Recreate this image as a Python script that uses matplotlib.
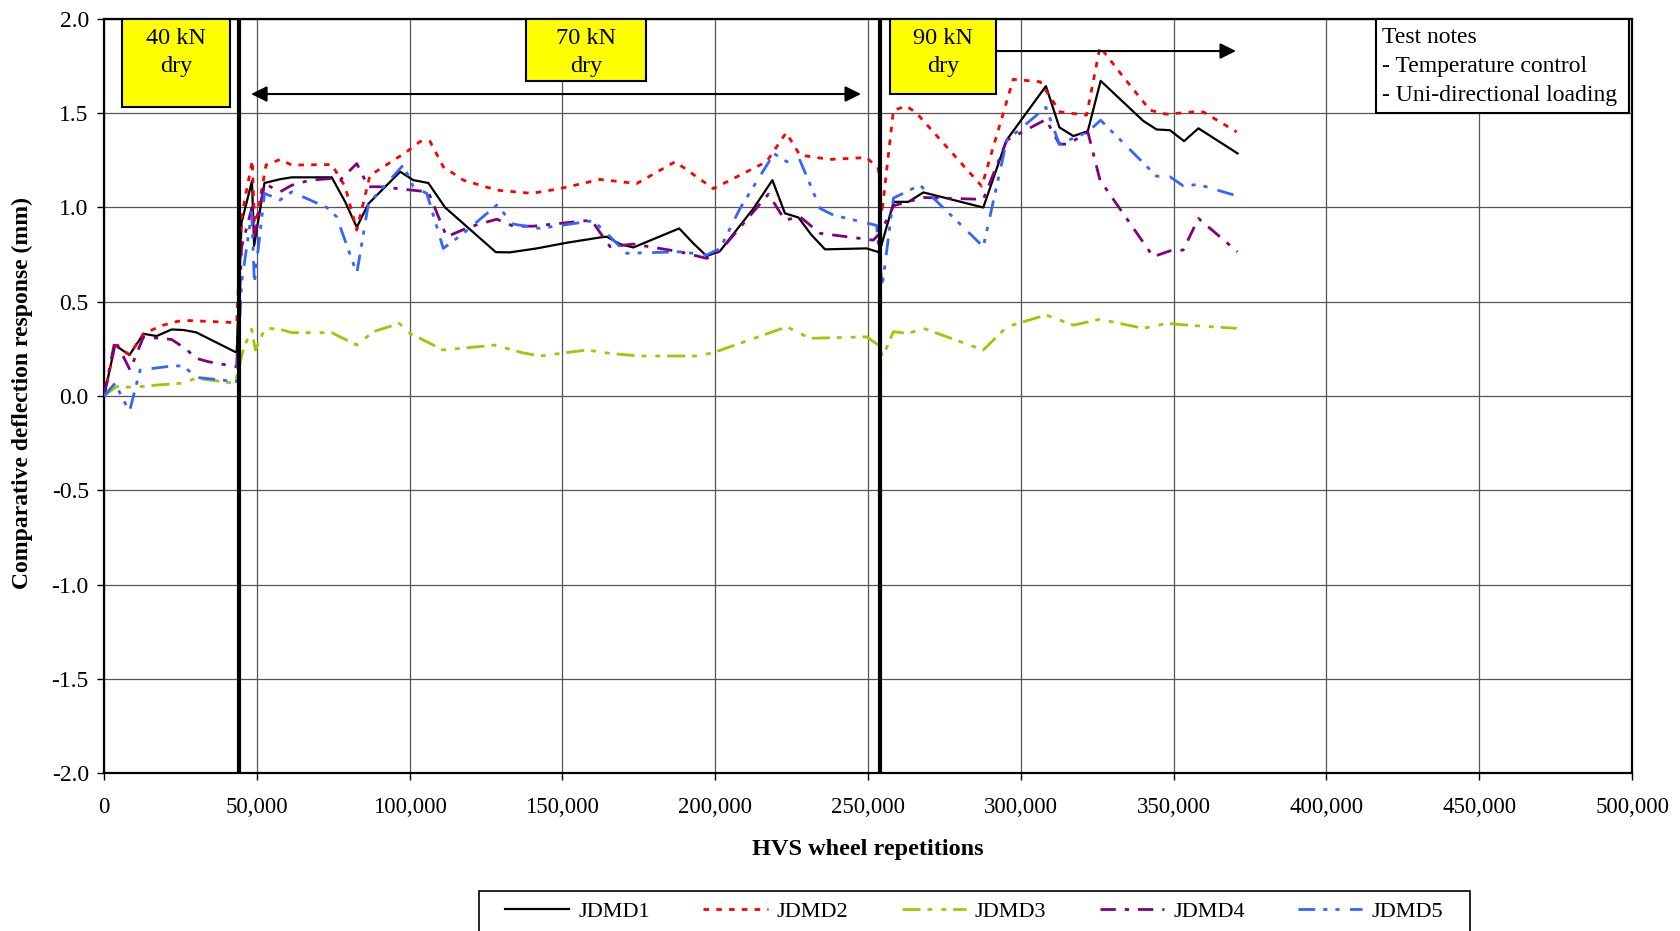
import matplotlib
matplotlib.use('Agg')
import matplotlib.pyplot as plt
from matplotlib.patches import Rectangle
from matplotlib.ticker import FuncFormatter, MultipleLocator

plt.rcParams['font.family'] = ['Liberation Serif', 'DejaVu Serif']
plt.rcParams['axes.unicode_minus'] = False
plt.rcParams['lines.scale_dashes'] = False

# HVS wheel repetitions / deflection (mm)
x1 = [0, 3600, 8300, 12900, 17200, 22100, 26000, 30100, 43400,
      45000, 48400, 49100, 52500, 57600, 61400, 74500, 78900, 82700, 86500,
      96900, 101200, 106100, 111600, 128200, 132800, 141600, 151400, 162300, 164500,
      168800, 173200, 188200, 192800, 197200, 201600, 212500, 218700, 222800, 227200,
      231500, 235900, 249500, 253700, 258400, 263200, 268100, 287700, 295300, 308200,
      312600, 317200, 321900, 326100, 340000, 344400, 348800, 353400, 358100, 370900]
y1 = [0, 0.27, 0.217, 0.33, 0.318, 0.353, 0.35, 0.338, 0.23,
      0.92, 1.14, 0.797, 1.13, 1.15, 1.16, 1.16, 1.03, 0.895, 1.02,
      1.19, 1.145, 1.13, 1.0, 0.763, 0.762, 0.783, 0.813, 0.841, 0.845,
      0.806, 0.788, 0.889, 0.81, 0.742, 0.77, 0.995, 1.145, 0.969, 0.947,
      0.854, 0.778, 0.783, 0.762, 1.03, 1.03, 1.08, 1.0, 1.357, 1.644,
      1.425, 1.379, 1.405, 1.672, 1.46, 1.414, 1.41, 1.352, 1.42, 1.287]

x2 = [0, 3600, 8300, 12900, 15600, 19400, 24300, 28100, 43400,
      45000, 48500, 49300, 53000, 57600, 61400, 74500, 78900, 82700, 87000,
      99000, 103400, 106700, 111000, 117600, 128500, 139900, 149200, 162300, 174300,
      186900, 199400, 216800, 223200, 227700, 237500, 249500, 253400, 254500, 258300,
      262600, 265900, 287200, 297500, 306300, 312800, 321500, 325900, 333500, 342300,
      347700, 356400, 359700, 370600]
y2 = [0, 0.27, 0.22, 0.33, 0.35, 0.376, 0.397, 0.40, 0.389,
      0.95, 1.25, 0.88, 1.225, 1.255, 1.225, 1.228, 1.11, 0.88, 1.17,
      1.295, 1.35, 1.35, 1.216, 1.145, 1.092, 1.075, 1.1, 1.149, 1.127,
      1.243, 1.1, 1.243, 1.397, 1.278, 1.255, 1.265, 1.207, 0.97, 1.516,
      1.538, 1.5, 1.113, 1.68, 1.667, 1.507, 1.49, 1.852, 1.693, 1.516,
      1.495, 1.507, 1.507, 1.401]

x3 = [0, 4100, 9600, 17200, 24900, 30300, 42900,
      45600, 48300, 49500, 52700, 57600, 61400, 74500, 82700, 88100, 96600,
      100100, 111000, 127900, 136700, 142700, 157900, 165600, 175400, 193900, 199400,
      223400, 231000, 249500, 253400, 254800, 258300, 263200, 268100, 287700, 295400,
      308200, 317200, 325900, 340000, 347700, 358600, 370600]
y3 = [0, 0.05, 0.046, 0.058, 0.067, 0.094, 0.067,
      0.25, 0.354, 0.244, 0.36, 0.354, 0.336, 0.336, 0.27, 0.341, 0.385,
      0.332, 0.244, 0.27, 0.23, 0.212, 0.244, 0.226, 0.212, 0.212, 0.23,
      0.367, 0.306, 0.314, 0.27, 0.208, 0.341, 0.332, 0.359, 0.244, 0.367,
      0.43, 0.376, 0.407, 0.359, 0.385, 0.371, 0.359]

x4 = [0, 3600, 8500, 12900, 22100, 27000, 30100, 34100, 43400,
      45000, 48400, 49300, 52500, 57600, 61400, 67400, 74500, 77200, 82700,
      86500, 90300, 99000, 106100, 112100, 119800, 128500, 133900, 140500, 159500,
      163400, 165600, 173200, 188500, 197200, 201600, 217400, 222800, 227700, 234300,
      251700, 253900, 258400, 268100, 287700, 295400, 308200, 312600, 315500, 321900,
      325900, 343300, 348800, 353100, 358100, 370900]
y4 = [0, 0.297, 0.138, 0.314, 0.3, 0.247, 0.2, 0.182, 0.155,
      0.79, 1.0, 0.85, 1.127, 1.083, 1.118, 1.145, 1.154, 1.145, 1.233,
      1.11, 1.11, 1.095, 1.083, 0.845, 0.898, 0.938, 0.901, 0.901, 0.933,
      0.841, 0.792, 0.806, 0.765, 0.73, 0.77, 1.071, 0.933, 0.951, 0.863,
      0.827, 0.863, 1.01, 1.053, 1.043, 1.357, 1.467, 1.336, 1.336, 1.401,
      1.145, 0.739, 0.77, 0.774, 0.942, 0.765]

x5 = [0, 3600, 8300, 11800, 22100, 26000, 30100, 43400,
      45000, 48300, 49200, 52500, 57600, 61400, 72900, 76100, 82700, 86500,
      97900, 101200, 105600, 111000, 117600, 128500, 133900, 142700, 160100, 165600,
      171000, 188500, 197200, 201600, 208100, 219200, 223400, 227700, 234300, 238600,
      252800, 254600, 258300, 267000, 287700, 295400, 308200, 312600, 321900, 326100,
      344400, 348800, 353100, 358100, 370600]
y5 = [0, 0.067, -0.083, 0.138, 0.159, 0.16, 0.099, 0.076,
      0.6, 0.975, 0.6, 1.075, 1.04, 1.083, 1.0, 0.951, 0.65, 1.02,
      1.225, 1.11, 1.075, 0.783, 0.863, 1.013, 0.912, 0.889, 0.93, 0.845,
      0.757, 0.765, 0.748, 0.783, 0.995, 1.286, 1.243, 1.251, 0.995, 0.96,
      0.905, 0.58, 1.05, 1.119, 0.792, 1.357, 1.531, 1.336, 1.401, 1.463,
      1.166, 1.163, 1.115, 1.122, 1.062]

names = ['JDMD1', 'JDMD2', 'JDMD3', 'JDMD4', 'JDMD5']
phase_breaks = [44000, 254000]

fig = plt.figure(figsize=(16.81, 9.31), dpi=100)
ax = fig.add_axes([0.0619, 0.1697, 0.909, 0.8099])

ax.plot(x1, y1, color='black', lw=1.6, label=names[0], zorder=4)
ax.plot(x2, y2, color='#FF0000', lw=2.0, dashes=(4, 5.2), label=names[1], zorder=4)
ax.plot(x3, y3, color='#99CC00', lw=2.0, dashes=(13, 5, 3.5, 6.5, 3.5, 5), label=names[2], zorder=4)
ax.plot(x4, y4, color='#800080', lw=2.0, dashes=(11, 6.5, 3, 6.5), label=names[3], zorder=4)
ax.plot(x5, y5, color='#3366FF', lw=2.0, dashes=(12, 5.8, 3, 5.8, 3, 7.5), label=names[4], zorder=4)

for b in phase_breaks:
    ax.axvline(b, color='black', lw=3, zorder=5)

ax.set_xlim(0, 500000)
ax.set_ylim(-2, 2)
ax.xaxis.set_major_locator(MultipleLocator(50000))
ax.yaxis.set_major_locator(MultipleLocator(0.5))
ax.xaxis.set_major_formatter(FuncFormatter(lambda v, p: f'{v:,.0f}'))
ax.yaxis.set_major_formatter(FuncFormatter(lambda v, p: f'{v:.1f}'))
ax.tick_params(axis='x', labelsize=16.5, length=5, width=1, pad=12)
ax.tick_params(axis='y', labelsize=17, length=5, width=1, pad=6)
ax.grid(True, color='#555555', lw=0.9)
ax.set_axisbelow(True)
for s in ax.spines.values():
    s.set_linewidth(1.6)

# load boxes
boxes = [((0.0118, 0.8833), 0.0707, 0.1167, '40 kN\ndry'),
         ((0.2762, 0.9178), 0.0785, 0.0822, '70 kN\ndry'),
         ((0.5144, 0.9005), 0.0694, 0.0995, '90 kN\ndry')]
for (bx, by), bw, bh, txt in boxes:
    ax.add_patch(Rectangle((bx, by), bw, bh, transform=ax.transAxes, fc='#FFFF00',
                           ec='black', lw=1.5, zorder=6, clip_on=False))
    ax.text(bx + bw / 2, 0.9555, txt, transform=ax.transAxes, ha='center', va='center',
            fontsize=17.5, linespacing=1.45, zorder=7)

ax.add_patch(Rectangle((0.8325, 0.8753), 0.1655, 0.1247, transform=ax.transAxes, fc='white',
                       ec='black', lw=1.5, zorder=6, clip_on=False))
ax.text(0.8364, 0.989, 'Test notes\n- Temperature control\n- Uni-directional loading',
        transform=ax.transAxes, ha='left', va='top', fontsize=17, linespacing=1.5, zorder=7)

arrow_style = dict(arrowstyle='<|-|>,head_length=0.95,head_width=0.47', color='black',
                   lw=1.5, shrinkA=0, shrinkB=0, mutation_scale=10)
ax.annotate('', xy=(247700, 0.9005), xytext=(48100, 0.9005),
            xycoords=('data', 'axes fraction'), arrowprops=arrow_style, zorder=7)
arrow_style['arrowstyle'] = '-|>,head_length=0.95,head_width=0.47'
ax.annotate('', xy=(370400, 0.9575), xytext=(291900, 0.9575),
            xycoords=('data', 'axes fraction'), arrowprops=arrow_style, zorder=7)

fig.text(22 / 1681, 1 - 393 / 931, 'Comparative deflection response (mm)', rotation=90,
         ha='center', va='center', fontsize=17, fontweight='bold')
fig.text(868 / 1681, 1 - 849 / 931, 'HVS wheel repetitions', ha='center', va='center',
         fontsize=17.5, fontweight='bold')

# legend box runs off the bottom edge like the original
fig.patches.append(Rectangle((479 / 1681, -0.02), (1470 - 479) / 1681, 0.02 + 40 / 931,
                             transform=fig.transFigure, fc='white', ec='black', lw=1.2))
fig.legend(ncol=5, loc='center left', bbox_to_anchor=(505 / 1681, 1 - 912 / 931),
           bbox_transform=fig.transFigure, frameon=False, fontsize=16,
           handlelength=2.9, handletextpad=0.4, columnspacing=2.4,
           borderaxespad=0, borderpad=0)

fig.savefig('out.png', dpi=100)
